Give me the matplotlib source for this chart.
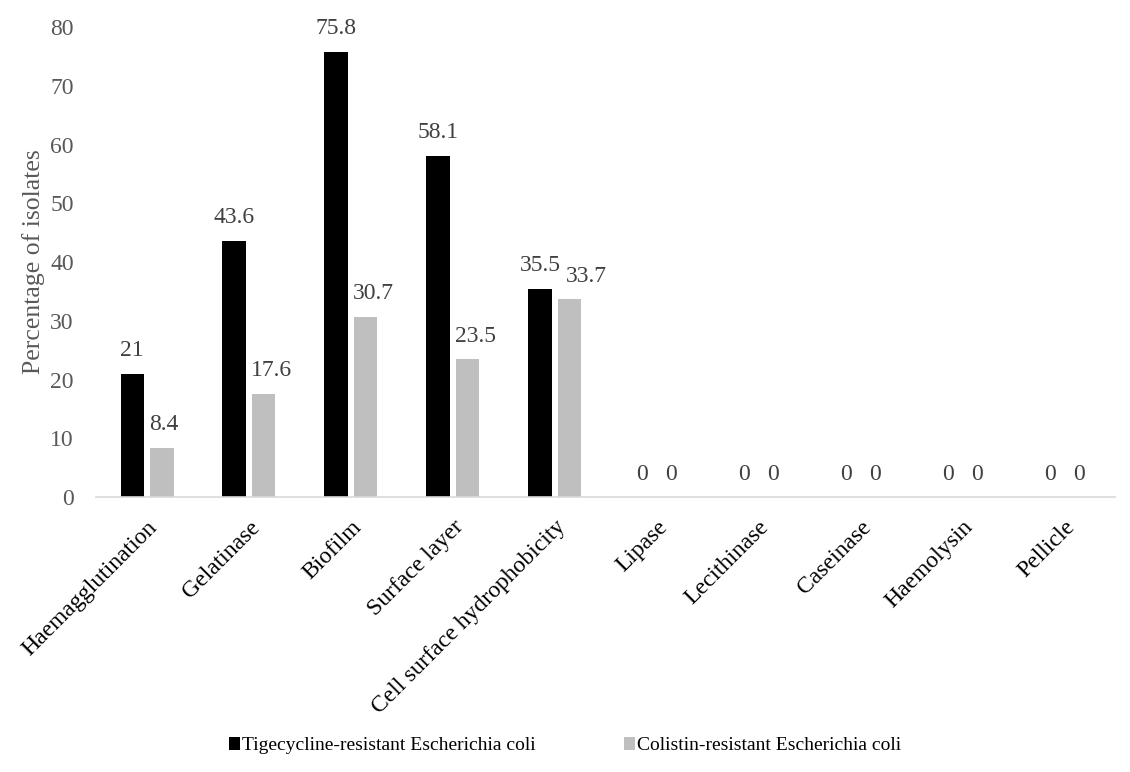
import matplotlib.pyplot as plt
import matplotlib.transforms as mtransforms
import numpy as np

plt.rcParams['font.family'] = ['Liberation Serif', 'DejaVu Serif']

categories = ['Haemagglutination', 'Gelatinase', 'Biofilm', 'Surface layer',
              'Cell surface hydrophobicity', 'Lipase', 'Lecithinase', 'Caseinase',
              'Haemolysin', 'Pellicle']
tigecycline = [21, 43.6, 75.8, 58.1, 35.5, 0, 0, 0, 0, 0]
colistin = [8.4, 17.6, 30.7, 23.5, 33.7, 0, 0, 0, 0, 0]
series_names = ['Tigecycline-resistant Escherichia coli', 'Colistin-resistant Escherichia coli']

fig = plt.figure(figsize=(11.3, 7.72), dpi=100)
ax = fig.add_axes([0.085, 0.356, 0.902, 0.609])

x = np.arange(len(categories))
w = 0.23
off = 0.145
b1 = ax.bar(x - off, tigecycline, w, color='black', label=series_names[0])
b2 = ax.bar(x + off, colistin, w, color='#bfbfbf', label=series_names[1])

def value_labels(bars, vals):
    return [ax.annotate(f'{v:g}', (r.get_x() + r.get_width() / 2, v),
                        xytext=(0, 9), textcoords='offset points',
                        ha='center', va='bottom', fontsize=17, color='#404040')
            for r, v in zip(bars, vals)]

lab1 = value_labels(b1, tigecycline)
lab2 = value_labels(b2, colistin)

ax.set_xlim(-0.5, len(categories) - 0.5)
ax.set_ylim(0, 80)
ax.set_yticks(range(0, 81, 10))
ax.set_xticks(x)
ax.set_xticklabels(categories, rotation=45, ha='right', rotation_mode='anchor',
                   fontsize=17, color='black')
shift = mtransforms.ScaledTranslation(-4 / 72, 0, fig.dpi_scale_trans)
for lbl in ax.get_xticklabels():
    lbl.set_transform(lbl.get_transform() + shift)
ax.tick_params(axis='y', length=0, labelsize=17, labelcolor='#595959', pad=16)
ax.tick_params(axis='x', length=0, pad=14)
for s in ('top', 'right', 'left'):
    ax.spines[s].set_visible(False)
ax.spines['bottom'].set_color('#d9d9d9')
ax.spines['bottom'].set_linewidth(1.2)
ax.set_ylabel('Percentage of isolates', fontsize=18.5, color='#595959', labelpad=4)

fig.legend(handles=[b1, b2], loc='center', bbox_to_anchor=(0.5, 0.034), ncol=2,
           frameon=False, fontsize=14, handlelength=0.6, handleheight=0.6,
           handletextpad=0.1, columnspacing=4.5)

# push grey labels to the right when they run into the black bar or its label
fig.canvas.draw()
renderer = fig.canvas.get_renderer()
gap = 5
for i in range(len(categories)):
    bb = lab2[i].get_window_extent(renderer)
    need = 0
    for ob in (b1[i].get_window_extent(renderer), lab1[i].get_window_extent(renderer)):
        if ob.y1 > bb.y0 and ob.y0 < bb.y1 and ob.x1 + gap > bb.x0:
            need = max(need, ob.x1 + gap - bb.x0)
    if need:
        lab2[i].xyann = (need * 72 / fig.dpi, 9)

fig.savefig('out.png', dpi=100)
